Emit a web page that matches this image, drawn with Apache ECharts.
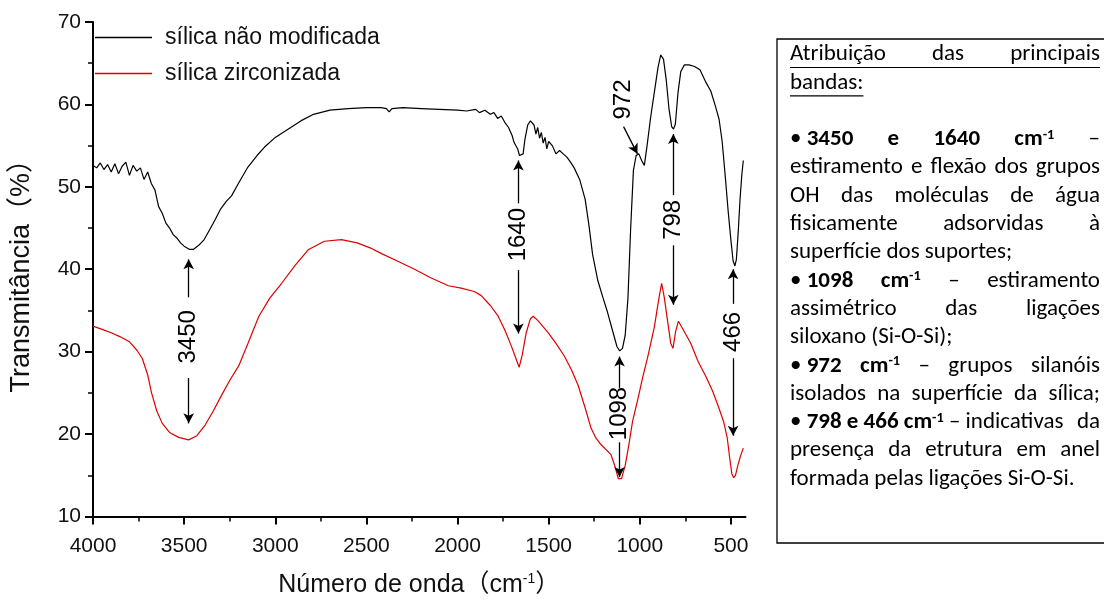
<!DOCTYPE html>
<html><head><meta charset="utf-8">
<script src="https://cdn.jsdelivr.net/npm/echarts@6/dist/echarts.min.js"></script>
<style>html,body{margin:0;padding:0;background:#fff}#c{width:1104px;height:603px}</style>
</head><body><div id="c"></div><script>
// ---------- DATA ----------
const seriesNames = ['sílica não modificada', 'sílica zirconizada'];
const blackWn = [4000,3980,3960,3940,3920,3900,3880,3860,3840,3820,3800,3780,3760,3740,3720,3700,3680,3660,3640,3620,3600,3580,3560,3540,3520,3500,3470,3450,3420,3390,3360,3330,3300,3270,3240,3200,3150,3100,3060,3000,2930,2860,2790,2700,2600,2500,2420,2390,2375,2360,2300,2200,2100,2000,1950,1900,1880,1850,1820,1800,1780,1760,1740,1720,1700,1690,1680,1670,1660,1650,1640,1630,1615,1600,1590,1580,1570,1560,1550,1540,1530,1520,1510,1500,1480,1460,1440,1420,1400,1380,1360,1330,1300,1280,1259,1230,1200,1180,1150,1125,1110,1095,1080,1065,1050,1035,1020,1005,990,975,960,940,920,900,885,870,855,840,825,815,805,790,775,755,730,700,670,640,610,585,565,548,530,515,500,488,478,470,460,450,440,432];
const blackT  = [52.6,52.3,52.9,52.1,52.7,51.8,52.8,51.6,52.5,53.0,51.4,52.6,51.9,52.3,50.9,51.8,50.4,49.6,47.6,46.8,45.6,45.0,44.2,43.8,43.2,42.8,42.4,42.4,42.9,43.6,44.8,46.0,47.3,48.2,48.9,50.5,52.4,53.8,54.8,56.0,57.0,58.0,58.8,59.3,59.5,59.6,59.6,59.5,59.1,59.5,59.6,59.5,59.4,59.3,59.2,59.4,59.0,59.3,58.8,59.0,58.3,58.6,57.8,57.2,56.2,55.4,55.5,54.6,53.8,53.6,54.0,55.8,57.5,58.0,57.8,57.5,56.4,57.2,55.9,56.6,55.3,56.0,54.6,55.5,55.0,54.0,54.4,54.0,53.6,53.0,52.3,50.9,48.5,45.5,41.8,38.6,36.4,35.0,32.6,30.6,30.1,30.4,32.0,36.5,45.0,52.0,53.8,54.0,53.2,52.6,55.0,58.5,61.5,64.5,66.0,65.5,63.0,59.5,57.3,57.0,57.6,61.5,64.0,64.8,64.8,64.6,64.2,62.8,61.6,59.8,58.2,55.5,51.0,47.0,43.5,41.0,40.4,41.2,44.5,48.5,51.5,53.2];
const redWn = [4000,3950,3900,3850,3800,3760,3730,3700,3680,3650,3620,3580,3530,3475,3430,3385,3340,3295,3250,3200,3150,3090,3030,2965,2890,2817,2730,2637,2550,2480,2417,2330,2236,2150,2050,1980,1908,1870,1820,1777,1740,1705,1680,1662,1645,1623,1600,1585,1560,1503,1460,1415,1375,1338,1300,1267,1240,1212,1158,1135,1118,1100,1080,1060,1040,1010,985,955,920,895,880,865,846,830,818,803,788,760,720,680,640,600,565,540,520,505,495,485,475,462,448,432];
const redT  = [33.1,32.7,32.3,31.8,31.2,30.2,29.2,27.2,25.1,22.8,21.3,20.2,19.6,19.3,19.8,21.1,22.8,24.7,26.5,28.3,31.0,34.3,36.5,38.3,40.5,42.4,43.4,43.6,43.2,42.6,41.9,41.0,40.0,39.0,38.0,37.7,37.3,36.8,35.6,34.3,32.6,30.7,29.2,28.1,29.6,32.3,34.0,34.3,33.8,32.3,31.0,29.5,27.8,25.9,23.2,20.7,19.5,18.7,17.5,16.0,14.6,14.6,16.2,18.7,21.5,24.3,26.8,29.5,33.0,36.5,38.3,36.5,33.5,31.0,30.4,32.5,33.7,32.6,31.0,28.8,27.1,25.2,23.1,21.5,19.5,16.8,15.2,14.7,15.0,16.2,17.3,18.3];
const xMajorTicks = [4000,3500,3000,2500,2000,1500,1000,500];
const xMinorTicks = [3750,3250,2750,2250,1750,1250,750];
// band annotations: label, wavenumber, label centre, upper arrow [from,to], lower arrow [from,to]
const bandLabels = ['3450','1640','1098','798','466'];
const bandWn     = [3475, 1666, 1111, 816, 488];
const bandTextT  = [31.8, 44.2, 22.5, 46.0, 32.4];
const upArrow    = [[36.6,41.2],[48.0,53.2],[25.6,29.4],[49.0,56.4],[35.8,40.0]];
const downArrow  = [[26.8,21.3],[39.9,32.2],[19.0,14.8],[42.9,35.7],[29.2,19.8]];
const band972 = {label:'972', textWn:1089, textT:60.6, arrowFrom:[1089,57.3], arrowTo:[1013,54.0]};
// text box lines: * toggles bold, ^{..} superscript, ~ fixed space; j = justified, l = left, u = underlined
const boxLines = [
  ['ju','Atribuição das principais'],
  ['lu','bandas:'],
  ['l',''],
  ['j','•~*3450* *e* *1640* *cm^{-1}* –'],
  ['j','estiramento e flexão dos grupos'],
  ['j','OH das moléculas de água'],
  ['j','fisicamente adsorvidas à'],
  ['l','superfície dos suportes;'],
  ['j','•~*1098* *cm^{-1}* – estiramento'],
  ['j','assimétrico das ligações'],
  ['l','siloxano (Si-O-Si);'],
  ['j','•~*972* *cm^{-1}* – grupos silanóis'],
  ['j','isolados na superfície da sílica;'],
  ['j','•~*798~e~466~cm^{-1}*~–~indicativas da'],
  ['j','presença da etrutura em anel'],
  ['l','formada pelas ligações Si-O-Si.']
];

// ---------- BUILD ----------
const zip = (a,b) => a.map((v,i)=>[v,b[i]]);
const F = '"Liberation Sans", Arial, sans-serif';

const markLines = [];
bandWn.forEach((wn,i)=>{
  markLines.push([{coord:[wn,upArrow[i][0]]},{coord:[wn,upArrow[i][1]]}]);
  markLines.push([{coord:[wn,downArrow[i][0]]},{coord:[wn,downArrow[i][1]]}]);
});
markLines.push([{coord:band972.arrowFrom},{coord:band972.arrowTo}]);
const markPts = bandWn.map((wn,i)=>({name:bandLabels[i], coord:[wn,bandTextT[i]]}));
markPts.push({name:band972.label, coord:[band972.textWn, band972.textT]});

// text box layout
const BOXX=777, BOXY=39, BOXH=504, TL=790, TR=1100, BASE0=66, LH=28.3;
const BF = 'Carlito, Lato, "Open Sans", sans-serif';
const cv = document.createElement('canvas').getContext('2d');
function mw(t,bold,size){cv.font=(bold?'bold ':'')+size+'px '+BF;return cv.measureText(t).width;}
function parse(s){
  const words=[];let cur=[];let bold=false;let i=0;
  const push=(t,b,sup)=>{ if(!t) return; const last=cur[cur.length-1]; if(last&&last.b===b&&last.sup===sup) last.t+=t; else cur.push({t,b,sup}); };
  while(i<s.length){const c=s[i];
    if(c==='*'){bold=!bold;i++;continue;}
    if(c==='^'){const e=s.indexOf('}',i);push(s.slice(i+2,e),bold,true);i=e+1;continue;}
    if(c===' '){if(cur.length)words.push(cur);cur=[];i++;continue;}
    if(c==='~'){push(' ',bold,false);i++;continue;}
    push(c,bold,false);i++;}
  if(cur.length)words.push(cur);return words;
}
function wordW(w,fs){return w.reduce((s,g)=>s+mw(g.t,g.b,g.sup?fs*0.62:fs),0);}
let fs=23;
boxLines.forEach(([f,s])=>{ if(f[0]!=='j')return; const ws=parse(s); const tot=ws.reduce((a,w)=>a+wordW(w,fs),0)+(ws.length-1)*mw(' ',false,fs)*0.8; if(tot>TR-TL) fs=Math.min(fs, fs*(TR-TL)/tot);});
fs=Math.floor(fs*10)/10;
const graphics=[{type:'rect',shape:{x:BOXX,y:BOXY,width:360,height:BOXH},style:{fill:'#fff',stroke:'#000',lineWidth:1.3},z:100}];
boxLines.forEach(([f,s],li)=>{
  const ws=parse(s); if(!ws.length) return;
  const base=BASE0+li*LH;
  const widths=ws.map(w=>wordW(w,fs));
  const sum=widths.reduce((a,b)=>a+b,0);
  let gap=mw(' ',false,fs);
  if(f[0]==='j'&&ws.length>1) gap=(TR-TL-sum)/(ws.length-1);
  let x=TL;
  ws.forEach((w,wi)=>{
    let gx=x;
    w.forEach(g=>{
      const size=g.sup?fs*0.62:fs;
      graphics.push({type:'text',z:101,x:gx,y:g.sup?base-fs*0.38:base,style:{text:g.t,font:(g.b?'bold ':'')+size.toFixed(1)+'px '+BF,fill:'#000',align:'left',verticalAlign:'bottom'}});
      gx+=mw(g.t,g.b,size);
    });
    x+=widths[wi]+gap;
  });
  if(f.includes('u')){
    const x2=(f[0]==='j')?TR:TL+sum;
    graphics.push({type:'line',z:101,shape:{x1:TL,y1:base+1.5,x2:x2,y2:base+1.5},style:{stroke:'#000',lineWidth:1.2}});
  }
});

const chart = echarts.init(document.getElementById('c'));
chart.setOption({
  animation:false,
  backgroundColor:'#fff',
  grid:{left:90,top:22,width:655.5,height:500,containLabel:false},
  legend:{left:95,top:26,orient:'vertical',icon:'rect',itemWidth:57,itemHeight:1.5,itemGap:13,padding:0,
    textStyle:{fontFamily:F,fontSize:23,color:'#111',padding:[0,0,0,8]},data:seriesNames},
  xAxis:[{type:'value',inverse:true,min:420,max:4000,
    axisLine:{show:true,lineStyle:{color:'#000',width:2}},
    axisTick:{show:true,inside:false,length:8,customValues:xMajorTicks,lineStyle:{color:'#000',width:2}},
    axisLabel:{customValues:xMajorTicks,formatter:v=>String(v),margin:19,fontFamily:F,fontSize:21,color:'#111'},
    splitLine:{show:false},
    name:'{a|Número de onda（cm}{s|-1}{a|）}',nameLocation:'middle',nameGap:56,
    nameTextStyle:{rich:{a:{fontFamily:F+', "Noto Sans CJK SC"',fontSize:25,color:'#111'},s:{fontFamily:F,fontSize:14,color:'#111',verticalAlign:'top',padding:[0,0,12,0]}}}
  },{type:'value',inverse:true,min:420,max:4000,position:'bottom',
    axisLine:{show:false},axisTick:{show:true,length:5,customValues:xMinorTicks,lineStyle:{color:'#000',width:1.5}},
    axisLabel:{show:false},splitLine:{show:false}}],
  yAxis:{type:'value',min:10,max:70,interval:10,
    axisLine:{show:true,lineStyle:{color:'#000',width:2}},
    axisTick:{show:true,length:8,lineStyle:{color:'#000',width:2}},
    minorTick:{show:true,splitNumber:2,length:5,lineStyle:{color:'#000',width:1.5}},
    axisLabel:{margin:12,fontFamily:F,fontSize:21,color:'#111'},
    splitLine:{show:false},
    name:'Transmitância（%）',nameLocation:'middle',nameRotate:90,nameGap:58,
    nameTextStyle:{fontFamily:F+', "Noto Sans CJK SC"',fontSize:27,color:'#111'}},
  series:[
    {name:seriesNames[0],type:'line',data:zip(blackWn,blackT),showSymbol:false,symbol:'none',
      lineStyle:{color:'#000',width:1.2},itemStyle:{color:'#000'},z:3,
      markLine:{silent:true,symbol:['none','arrow'],symbolSize:[8,10],label:{show:false},
        lineStyle:{color:'#000',width:1.3,type:'solid'},emphasis:{disabled:true},data:markLines},
      markPoint:{silent:true,symbol:'circle',symbolSize:0,
        label:{show:true,position:'inside',rotate:90,formatter:p=>p.name,fontFamily:F,fontSize:24,color:'#000'},
        data:markPts}},
    {name:seriesNames[1],type:'line',data:zip(redWn,redT),showSymbol:false,symbol:'none',
      lineStyle:{color:'#dd0000',width:1.2},itemStyle:{color:'#dd0000'},z:2}
  ],
  graphic:graphics
});
</script></body></html>
